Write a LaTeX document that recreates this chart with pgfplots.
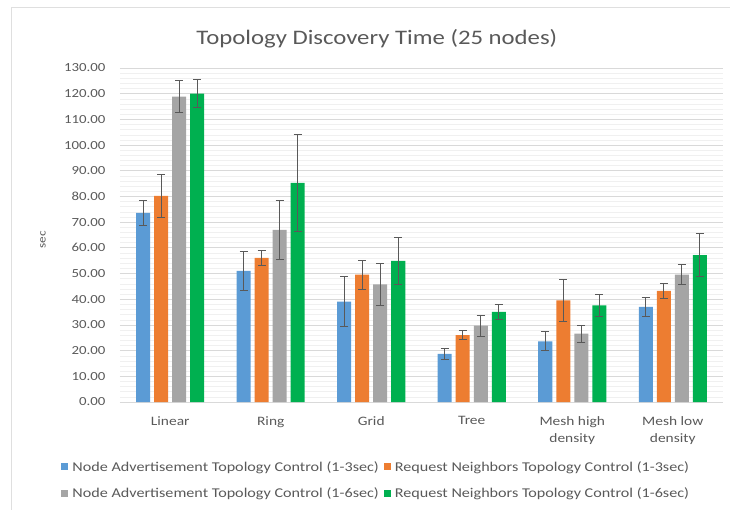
\documentclass[border=0pt]{standalone}
\usepackage{pgfplots}
\usepackage{pgfplotstable}
\pgfplotsset{compat=1.18}
\usepackage{fontspec}
\setmainfont{Carlito}[FakeStretch=1.2]
\definecolor{cblue}{HTML}{5B9BD5}
\definecolor{corange}{HTML}{ED7D31}
\definecolor{cgray}{HTML}{A5A5A5}
\definecolor{cgreen}{HTML}{00B050}
\definecolor{txt}{HTML}{595959}
\definecolor{grid}{HTML}{D9D9D9}
\pgfplotstableread{
x blue be orange oe gray ge green gre
0 73.6 5.0 80.2 8.3 118.9 6.3 120.0 5.5
1 51.0 7.5 56.1 3.0 67.0 11.4 85.3 18.8
2 39.1 9.8 49.6 5.6 45.8 8.2 54.9 9.2
3 18.7 2.1 26.0 1.8 29.7 4.2 35.1 3.0
4 23.6 3.7 39.6 8.2 26.6 3.4 37.6 4.1
5 37.0 3.8 43.3 2.8 49.6 4.0 57.2 8.5
}\data
\begin{document}
\begin{tikzpicture}
\useasboundingbox (-120bp,-108bp) rectangle (610bp,402bp);
\draw[gray!25, line width=1bp] (-108bp,-108bp) -- (-108bp,394bp) -- (610bp,394bp);
\begin{axis}[
  scale only axis, width=603bp, height=334bp,
  xmin=-0.5, xmax=5.5, ymin=0, ymax=130,
  ybar=4bp, bar width=14bp,
  axis x line*=bottom, axis y line*=left,
  x axis line style={draw=grid, line width=0.8bp},
  y axis line style={draw=none},
  major tick length=0pt, minor tick length=0pt,
  xtick={0,...,5},
  xticklabels={Linear, Ring, Grid, Tree, Mesh high\\density, Mesh low\\density},
  xticklabel style={align=center, font=\fontsize{12.9}{17}\selectfont, text=txt, yshift=-11bp},
  ytick={0,10,...,130},
  minor y tick num=4,
  ymajorgrids, yminorgrids,
  major grid style={draw=grid, line width=0.8bp},
  minor grid style={draw=gray!12, line width=0.5bp},
  yticklabel style={/pgf/number format/fixed, /pgf/number format/fixed zerofill, /pgf/number format/precision=2, /pgf/number format/assume math mode=true, font=\fontsize{12.4}{15}\selectfont, text=txt, xshift=-11bp},
  ylabel={sec},
  every axis y label/.style={at={(axis description cs:-0.1277,0.485)}, rotate=90, anchor=center, font=\fontsize{11}{13}\selectfont, text=txt},
  title={Topology Discovery Time (25 nodes)},
  title style={at={(0.426,1)}, anchor=south, yshift=10bp, font=\fontsize{20.7}{24}\selectfont, text=txt},
  error bars/error bar style={draw=txt, line width=0.8bp},
  error bars/error mark options={rotate=90, mark size=4bp, draw=txt, line width=0.8bp},
  legend columns=2,
  legend cell align=left,
  legend style={at={(0.425,-0.165)}, anchor=north, draw=none, fill=none,
    font=\fontsize{13.5}{16}\selectfont, text=txt,
    /tikz/every odd column/.style={column sep=2bp},
    /tikz/every even column/.style={column sep=3bp},
    row sep=11bp},
  sq/.style={legend image code/.code={\fill[##1] (0bp,-3.5bp) rectangle (7bp,3.5bp);}},
]
\addplot[sq, fill=cblue, draw=none, error bars/.cd, y dir=both, y explicit] table[x=x, y=blue, y error=be] {\data};
\addplot[sq, fill=corange, draw=none, error bars/.cd, y dir=both, y explicit] table[x=x, y=orange, y error=oe] {\data};
\addplot[sq, fill=cgray, draw=none, error bars/.cd, y dir=both, y explicit] table[x=x, y=gray, y error=ge] {\data};
\addplot[sq, fill=cgreen, draw=none, error bars/.cd, y dir=both, y explicit] table[x=x, y=green, y error=gre] {\data};
\legend{Node Advertisement Topology Control (1-3sec), Request Neighbors Topology Control (1-3sec), Node Advertisement Topology Control (1-6sec), Request Neighbors Topology Control (1-6sec)}
\end{axis}
\end{tikzpicture}
\end{document}
